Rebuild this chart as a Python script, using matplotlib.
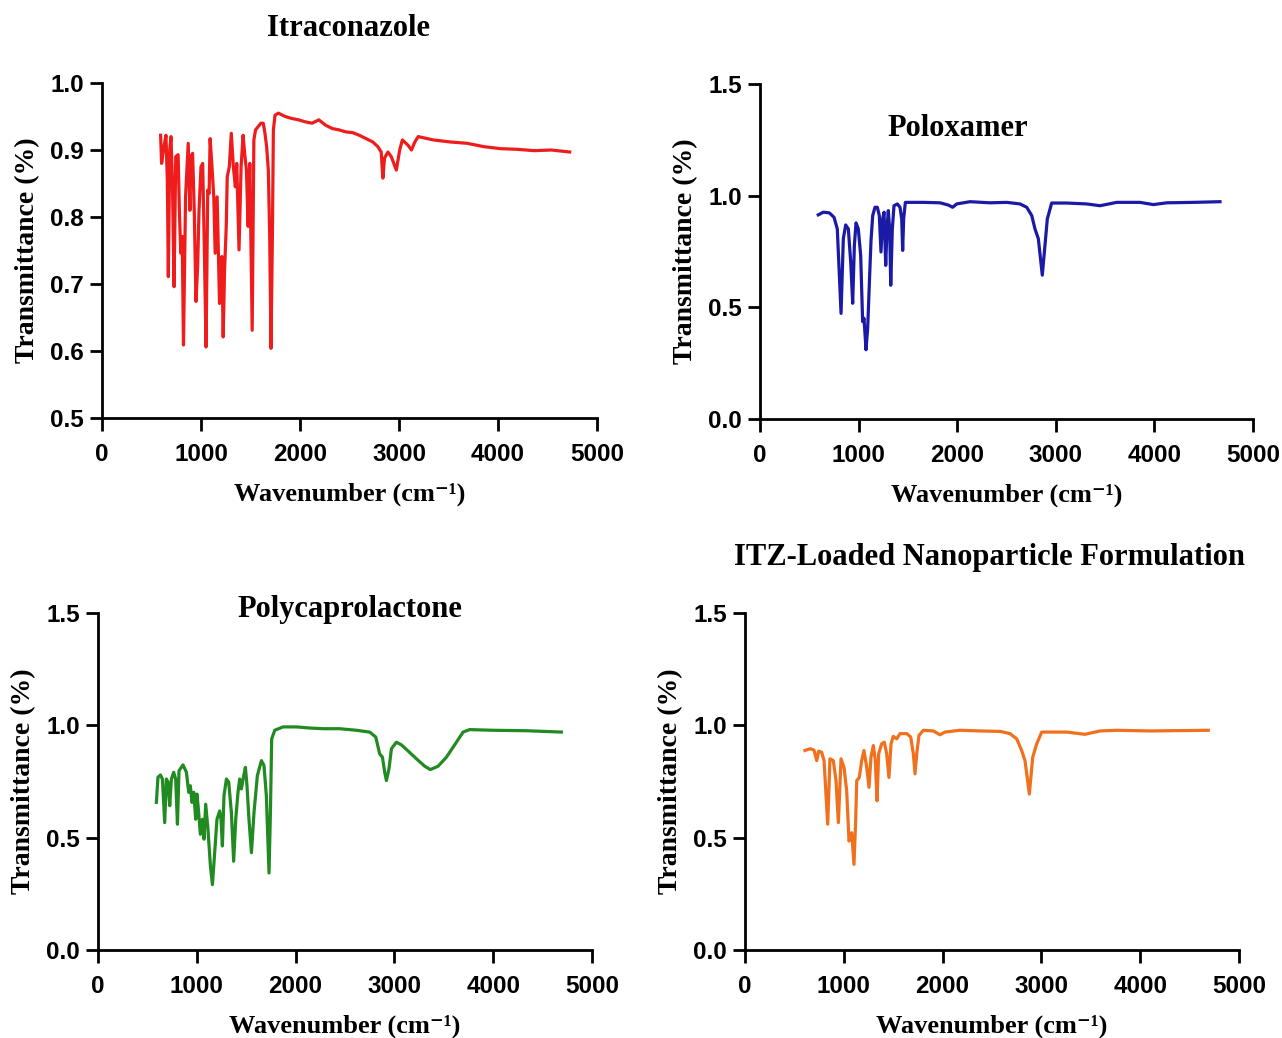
import matplotlib.pyplot as plt

# Itraconazole spectrum (wavenumber, transmittance)
itz_wn = [592, 602, 626, 646, 660, 670, 684, 697, 711, 728, 745, 769, 782, 796, 810,
          823, 844, 871, 888, 898, 915, 932, 949, 966, 980, 1000, 1017, 1034, 1051, 1068,
          1082, 1092, 1109, 1129, 1143, 1163, 1187, 1211, 1224, 1238, 1255, 1265, 1286, 1306,
          1327, 1347, 1361, 1384, 1405, 1425, 1442, 1459, 1476, 1493, 1517, 1534, 1551, 1578,
          1605, 1629, 1646, 1663, 1680, 1694, 1707, 1721, 1731, 1748, 1782, 1850, 1918, 1986,
          2054, 2122, 2190, 2259, 2327, 2395, 2463, 2531, 2599, 2667, 2735, 2786, 2820, 2837,
          2854, 2888, 2922, 2973, 3007, 3034, 3092, 3126, 3160, 3194, 3347, 3517, 3687, 3857,
          4027, 4197, 4367, 4538, 4724]
itz_t = [0.922, 0.880, 0.905, 0.922, 0.855, 0.711, 0.900, 0.920, 0.855, 0.696, 0.890, 0.893,
         0.806, 0.746, 0.771, 0.609, 0.830, 0.910, 0.810, 0.890, 0.895, 0.810, 0.674, 0.726,
         0.810, 0.875, 0.880, 0.751, 0.606, 0.840, 0.835, 0.917, 0.880, 0.830, 0.746, 0.830,
         0.671, 0.741, 0.621, 0.721, 0.786, 0.860, 0.875, 0.925, 0.875, 0.845, 0.880, 0.751,
         0.875, 0.922, 0.893, 0.870, 0.786, 0.880, 0.631, 0.915, 0.930, 0.935, 0.940, 0.940,
         0.925, 0.905, 0.870, 0.771, 0.604, 0.771, 0.930, 0.952, 0.955, 0.950, 0.947, 0.945,
         0.942, 0.940, 0.945, 0.937, 0.932, 0.930, 0.927, 0.926, 0.922, 0.917, 0.912, 0.905,
         0.897, 0.858, 0.888, 0.897, 0.890, 0.870, 0.900, 0.915, 0.907, 0.900, 0.912, 0.920,
         0.915, 0.912, 0.910, 0.905, 0.902, 0.901, 0.899, 0.900, 0.897]

# Poloxamer spectrum
pol_wn = [591, 642, 703, 751, 784, 822, 845, 869, 896, 920, 940, 957, 974, 997, 1021, 1041,
          1055, 1075, 1092, 1116, 1126, 1143, 1166, 1190, 1210, 1227, 1244, 1258, 1275, 1288,
          1301, 1315, 1326, 1342, 1359, 1393, 1420, 1437, 1447, 1457, 1474, 1656, 1826, 1910,
          1954, 1995, 2130, 2333, 2502, 2637, 2705, 2756, 2789, 2823, 2863, 2890, 2914, 2958,
          3110, 3313, 3448, 3618, 3854, 3989, 4125, 4395, 4665]
pol_t = [0.914, 0.926, 0.923, 0.903, 0.851, 0.473, 0.807, 0.869, 0.851, 0.703, 0.518, 0.777,
         0.878, 0.851, 0.733, 0.436, 0.451, 0.310, 0.406, 0.688, 0.800, 0.911, 0.948, 0.948,
         0.911, 0.748, 0.896, 0.926, 0.688, 0.851, 0.933, 0.851, 0.599, 0.851, 0.955, 0.963,
         0.948, 0.896, 0.755, 0.896, 0.970, 0.970, 0.968, 0.958, 0.948, 0.963, 0.973, 0.968,
         0.970, 0.963, 0.948, 0.911, 0.851, 0.807, 0.644, 0.777, 0.896, 0.967, 0.967, 0.963,
         0.955, 0.970, 0.970, 0.960, 0.968, 0.970, 0.973]

# Polycaprolactone spectrum
pcl_wn = [591, 607, 632, 652, 675, 692, 709, 726, 743, 766, 786, 804, 820, 860, 895, 918,
          935, 951, 969, 989, 1002, 1019, 1036, 1057, 1073, 1090, 1113, 1138, 1158, 1181, 1204,
          1232, 1245, 1259, 1275, 1300, 1323, 1350, 1373, 1394, 1417, 1434, 1451, 1475, 1492,
          1508, 1528, 1553, 1579, 1613, 1654, 1680, 1704, 1731, 1745, 1758, 1789, 1872, 2008,
          2143, 2277, 2446, 2615, 2750, 2811, 2851, 2879, 2902, 2919, 2945, 2970, 3020, 3071,
          3121, 3223, 3307, 3364, 3442, 3526, 3628, 3695, 3762, 3998, 4336, 4690]
pcl_t = [0.657, 0.769, 0.779, 0.761, 0.567, 0.761, 0.747, 0.642, 0.761, 0.791, 0.761, 0.560,
         0.798, 0.824, 0.791, 0.702, 0.731, 0.657, 0.702, 0.582, 0.694, 0.612, 0.515, 0.582,
         0.493, 0.649, 0.537, 0.373, 0.291, 0.433, 0.582, 0.619, 0.582, 0.463, 0.687, 0.761,
         0.747, 0.612, 0.395, 0.582, 0.702, 0.761, 0.717, 0.776, 0.813, 0.731, 0.582, 0.433,
         0.612, 0.776, 0.843, 0.821, 0.687, 0.343, 0.612, 0.940, 0.978, 0.993, 0.993, 0.988,
         0.985, 0.985, 0.978, 0.970, 0.948, 0.873, 0.858, 0.791, 0.754, 0.806, 0.896, 0.925,
         0.913, 0.893, 0.851, 0.818, 0.803, 0.818, 0.858, 0.925, 0.970, 0.981, 0.978, 0.976,
         0.970]

# ITZ-loaded nanoparticle formulation spectrum
np_wn = [607, 658, 698, 726, 746, 776, 800, 837, 860, 894, 921, 945, 972, 1002, 1029, 1053,
         1080, 1103, 1120, 1131, 1157, 1181, 1204, 1232, 1255, 1275, 1299, 1319, 1336, 1353,
         1383, 1410, 1434, 1457, 1478, 1501, 1535, 1569, 1637, 1677, 1704, 1721, 1738, 1761,
         1805, 1906, 1974, 2024, 2176, 2379, 2581, 2682, 2750, 2800, 2834, 2878, 2912, 2953,
         3003, 3256, 3441, 3593, 3762, 4099, 4689]
np_t = [0.888, 0.896, 0.890, 0.843, 0.885, 0.880, 0.843, 0.560, 0.851, 0.843, 0.754, 0.567,
        0.851, 0.813, 0.709, 0.485, 0.522, 0.381, 0.575, 0.754, 0.768, 0.843, 0.888, 0.813,
        0.724, 0.858, 0.910, 0.843, 0.664, 0.873, 0.918, 0.925, 0.873, 0.768, 0.918, 0.951,
        0.940, 0.963, 0.963, 0.948, 0.873, 0.784, 0.873, 0.955, 0.978, 0.975, 0.958, 0.970,
        0.978, 0.975, 0.973, 0.963, 0.940, 0.888, 0.843, 0.694, 0.858, 0.918, 0.970, 0.970,
        0.960, 0.975, 0.978, 0.975, 0.978]

titles = ["Itraconazole", "Poloxamer", "Polycaprolactone",
          "ITZ-Loaded Nanoparticle Formulation"]
colors = ["#ee1c1c", "#1a1aa6", "#218a21", "#f0701e"]

SERIF = ["Liberation Serif", "DejaVu Serif"]
SANS = ["Liberation Sans", "DejaVu Sans"]

W, H = 1282, 1038
fig = plt.figure(figsize=(W / 100, H / 100), dpi=100)


def px_axes(left, top, right, bottom):
    return fig.add_axes([left / W, 1 - bottom / H, (right - left) / W, (bottom - top) / H])


panels = [
    (px_axes(102, 83, 597, 418), itz_wn, itz_t, (0.5, 1.0), [0.5, 0.6, 0.7, 0.8, 0.9, 1.0]),
    (px_axes(760, 84, 1253, 419), pol_wn, pol_t, (0.0, 1.5), [0.0, 0.5, 1.0, 1.5]),
    (px_axes(98, 613, 592, 950), pcl_wn, pcl_t, (0.0, 1.5), [0.0, 0.5, 1.0, 1.5]),
    (px_axes(745, 613, 1239, 950), np_wn, np_t, (0.0, 1.5), [0.0, 0.5, 1.0, 1.5]),
]

for (ax, wn, t, ylim, yticks), color in zip(panels, colors):
    ax.plot(wn, t, color=color, lw=2.3, solid_joinstyle="round")
    ax.set_xlim(0, 5000)
    ax.set_ylim(*ylim)
    ax.set_xticks([0, 1000, 2000, 3000, 4000, 5000])
    ax.set_yticks(yticks)
    ax.set_yticklabels([f"{v:.1f}" for v in yticks])
    for side in ("top", "right"):
        ax.spines[side].set_visible(False)
    for side in ("left", "bottom"):
        ax.spines[side].set_linewidth(2.0)
    ax.tick_params(direction="out", length=9, width=2.0)
    ax.tick_params(axis="x", pad=9)
    ax.tick_params(axis="y", pad=4)
    for lab in ax.get_xticklabels() + ax.get_yticklabels():
        lab.set_fontfamily(SANS)
        lab.set_fontweight("bold")
        lab.set_fontsize(17.5)
    ax.set_xlabel("Wavenumber (cm⁻¹)", family=SERIF, fontweight="bold",
                  fontsize=19, labelpad=12)
    ax.set_ylabel("Transmittance (%)", family=SERIF, fontweight="bold",
                  fontsize=20, labelpad=7)

title_pos = [(348, 28), (958, 128), (350, 610), (990, 557)]
for title, (x, y) in zip(titles, title_pos):
    fig.text(x / W, 1 - y / H, title, ha="center", va="center", family=SERIF,
             fontweight="bold", fontsize=22)

fig.savefig("out.png", dpi=100)
